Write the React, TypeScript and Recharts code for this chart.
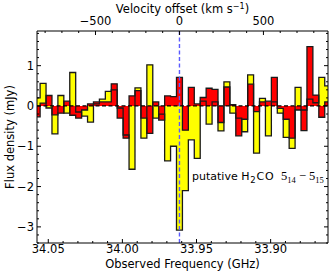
import { ComposedChart, Area, XAxis, YAxis, ReferenceLine } from "recharts";

// channel grid (GHz)
const firstEdge = 34.0595;
const chanWidth = 0.004;
const restFreq = 33.9615;
const C_KMS = 299792.458;

// flux per channel, left (high freq) to right
const yellowFlux = [
  0.2, 0.56, -0.05, -0.69, 0.26, -0.18, 0.83, -0.15, -0.25, -0.4,
  0.05, 0.17, 0.36, 0.4, -0.05, -0.72, -1.57, 0.45, -0.8, 1.02,
  -0.3, -0.2, -1.36, -1.0, -3.08, -2.1, -0.84, -1.3, 0.12, -0.45,
  0.1, -0.62, 0.6, -0.18, -0.3, -0.64, 0.77, -1.17, 0.19, -0.74,
  0.1, -0.18, -0.78, -1.05, 0.46, -0.1, 0.17, 0.08, 0.71, 0.5,
];
const redFlux = [
  -0.27, 0.07, 0.26, -0.22, -0.18, 0.12, -0.23, -0.3, -0.1, 0.05,
  0.1, 0.1, 0.1, 0.55, -0.3, -0.8, 0.25, 0.38, -0.3, -0.68,
  0.1, -0.35, 0.25, 0.23, 0.71, -0.6, 0.46, 0.05, 0.21, 0.44,
  0.41, -0.41, 0.47, 0.03, -0.74, -0.33, 0.54, -0.14, 0.1, 0.12,
  0.71, -0.06, -0.33, -0.8, -0.1, -0.61, 1.47, 0.27, -0.28, 0.1,
];

const freqMajor = [34.05, 34.0, 33.95, 33.9];
const freqMinor = [34.04, 34.03, 34.02, 34.01, 33.99, 33.98, 33.97, 33.96, 33.94, 33.93, 33.92, 33.91, 33.89, 33.88, 33.87];
const velMajor = [-500, 0, 500];
const velMinor = [-800, -700, -600, -400, -300, -200, -100, 100, 200, 300, 400, 600, 700, 800];
const fluxMajor = [-3, -2, -1, 0, 1];
const fluxMinor = [-3.4, -3.2, -2.8, -2.6, -2.4, -2.2, -1.8, -1.6, -1.4, -1.2, -0.8, -0.6, -0.4, -0.2, 0.2, 0.4, 0.6, 0.8, 1.2, 1.4, 1.6, 1.8];

const velToFreq = (v: number) => restFreq * (1 - v / C_KMS);

const data = yellowFlux.map((y, i) => ({
  f: firstEdge - i * chanWidth,
  yellow: y,
  red: redFlux[i],
}));
data.push({
  f: firstEdge - yellowFlux.length * chanWidth,
  yellow: yellowFlux[yellowFlux.length - 1],
  red: redFlux[redFlux.length - 1],
});

const FONT = "DejaVu Sans";
const SERIF = "Liberation Serif";
const FS = 11.5;
const EDGE = "#1a1a1a";
const minus = (s: string) => s.replace("-", "\u2212");

const BottomTick = (props: any) => {
  const { x, y, payload } = props;
  const major = freqMajor.includes(payload.value);
  const y0 = y - 2;
  return (
    <g>
      <line x1={x} x2={x} y1={y0} y2={y0 - (major ? 4 : 2)} stroke="#000" />
      {major && (
        <text x={x} y={y} dy="0.71em" textAnchor="middle" fontFamily={FONT} fontSize={FS} fill="#000">
          {payload.value.toFixed(2)}
        </text>
      )}
    </g>
  );
};

const TopTick = (props: any) => {
  const { x, y, payload } = props;
  const v = Math.round((C_KMS * (restFreq - payload.value)) / restFreq / 100) * 100;
  const major = velMajor.includes(v);
  const y0 = y + 6;
  return (
    <g>
      <line x1={x} x2={x} y1={y0} y2={y0 + (major ? 4 : 2)} stroke="#000" />
      {major && (
        <text x={x} y={y} textAnchor="middle" fontFamily={FONT} fontSize={FS} fill="#000">
          {minus(String(v))}
        </text>
      )}
    </g>
  );
};

const LeftTick = (props: any) => {
  const { x, y, payload } = props;
  const major = fluxMajor.includes(payload.value);
  const x0 = x + 3;
  return (
    <g>
      <line x1={x0} x2={x0 + (major ? 4 : 2)} y1={y} y2={y} stroke="#000" />
      {major && (
        <text x={x} y={y} dy="0.36em" textAnchor="end" fontFamily={FONT} fontSize={FS} fill="#000">
          {minus(String(payload.value))}
        </text>
      )}
    </g>
  );
};

const RightTick = (props: any) => {
  const { x, y, payload } = props;
  const major = fluxMajor.includes(payload.value);
  return <line x1={x} x2={x - (major ? 4 : 2)} y1={y} y2={y} stroke="#000" />;
};

export default function App() {
  return (
    <div style={{ position: "absolute", left: 0, top: 0, width: 332, height: 275, background: "#fff" }}>
      <ComposedChart width={332} height={275} data={data} margin={{ top: 0, right: 0, bottom: 0, left: 0 }}>
        <XAxis
          xAxisId="bottom"
          dataKey="f"
          type="number"
          domain={[33.8613, 34.0576]}
          reversed
          allowDataOverflow
          orientation="bottom"
          height={32}
          ticks={[...freqMajor, ...freqMinor]}
          interval={0}
          tickSize={0}
          tickMargin={2}
          tick={BottomTick}
          axisLine={{ stroke: "#000" }}
        />
        <XAxis
          xAxisId="top"
          dataKey="f"
          type="number"
          domain={[33.8613, 34.0576]}
          reversed
          allowDataOverflow
          orientation="top"
          height={31}
          ticks={[...velMajor, ...velMinor].map(velToFreq)}
          interval={0}
          tickSize={0}
          tickMargin={6}
          tick={TopTick}
          axisLine={{ stroke: "#000" }}
        />
        <YAxis
          yAxisId="left"
          type="number"
          domain={[-3.4, 1.86]}
          allowDataOverflow
          width={37}
          ticks={[...fluxMajor, ...fluxMinor]}
          interval={0}
          tickSize={0}
          tickMargin={3}
          tick={LeftTick}
          axisLine={{ stroke: "#000" }}
        />
        <YAxis
          yAxisId="right"
          orientation="right"
          type="number"
          domain={[-3.4, 1.86]}
          allowDataOverflow
          width={4}
          ticks={[...fluxMajor, ...fluxMinor]}
          interval={0}
          tickSize={0}
          tickMargin={0}
          tick={RightTick}
          axisLine={{ stroke: "#000" }}
        />
        <Area xAxisId="bottom" yAxisId="left" type="stepAfter" dataKey="yellow" baseValue={0}
          fill="#ffff00" fillOpacity={1} stroke="none" dot={false} activeDot={false} isAnimationActive={false} />
        <Area xAxisId="bottom" yAxisId="left" type="stepAfter" dataKey="red" baseValue={0}
          fill="#ff0000" fillOpacity={1} stroke="none" dot={false} activeDot={false} isAnimationActive={false} />
        <Area xAxisId="bottom" yAxisId="left" type="stepAfter" dataKey="yellow" baseValue={0}
          fill="none" stroke={EDGE} strokeWidth={1.3} dot={false} activeDot={false} isAnimationActive={false} />
        <Area xAxisId="bottom" yAxisId="left" type="stepAfter" dataKey="red" baseValue={0}
          fill="none" stroke={EDGE} strokeWidth={1.3} dot={false} activeDot={false} isAnimationActive={false} />
        <ReferenceLine xAxisId="bottom" yAxisId="left" y={0} stroke="#000" strokeWidth={1.2} strokeDasharray="4 2.5" />
        <ReferenceLine xAxisId="bottom" yAxisId="left" x={restFreq} stroke="#5a5aff" strokeWidth={1.4} strokeDasharray="4 2.5" />
      </ComposedChart>
      <svg width={332} height={275} style={{ position: "absolute", left: 0, top: 0, pointerEvents: "none" }}>
        <text x={182.5} y={13} textAnchor="middle" fontFamily={FONT} fontSize={FS} fill="#000">
          Velocity offset (km s
          <tspan dy={-4} fontSize={8}>{"\u22121"}</tspan>
          <tspan dy={4}>)</tspan>
        </text>
        <text x={182.5} y={268} textAnchor="middle" fontFamily={FONT} fontSize={FS} fill="#000">
          Observed Frequency (GHz)
        </text>
        <text x={14} y={137} textAnchor="middle" transform="rotate(-90 14 137)" fontFamily={FONT} fontSize={FS} fill="#000">
          Flux density (mJy)
        </text>
        <text x={192} y={180} fontFamily={FONT} fontSize={11} fill="#000">
          {"putative "}
          <tspan letterSpacing={0.8}>H</tspan>
          <tspan dy={2.5} fontSize={8.5} letterSpacing={0.8}>2</tspan>
          <tspan dy={-2.5} letterSpacing={0.8}>CO</tspan>
        </text>
        <text x={281} y={180} fontFamily={SERIF} fontSize={12.5} fill="#000">
          5
          <tspan dy={2.5} fontSize={8.5}>14</tspan>
          <tspan dy={-2.5}>{" \u2212 5"}</tspan>
          <tspan dy={2.5} fontSize={8.5}>15</tspan>
        </text>
      </svg>
    </div>
  );
}
